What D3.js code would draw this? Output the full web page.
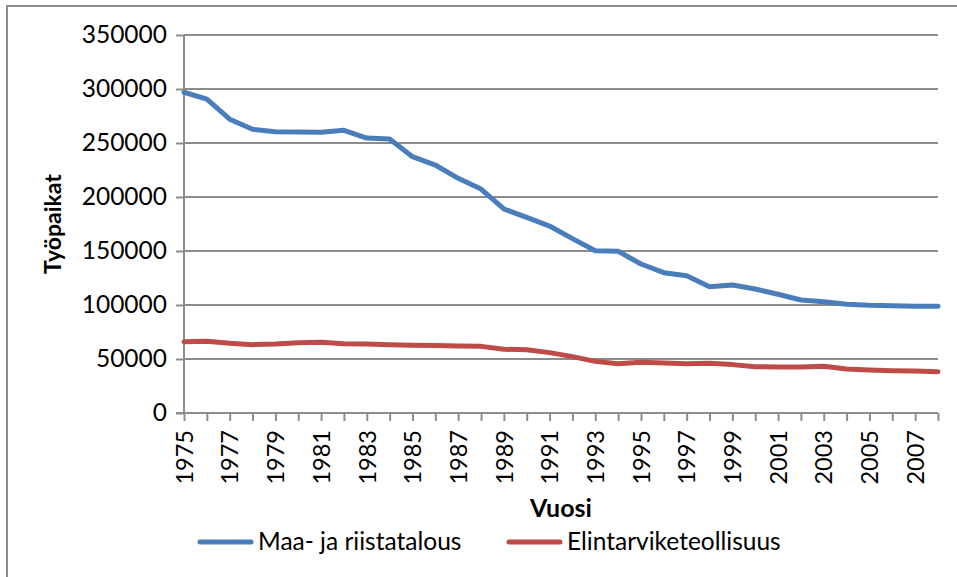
<!DOCTYPE html>
<html><head><meta charset="utf-8">
<script src="https://cdn.jsdelivr.net/npm/d3@7"></script>
<style>
html,body{margin:0;padding:0;background:#fff;}
svg{display:block;font-family:Lato, "Open Sans", sans-serif;}
</style></head>
<body>
<svg id="chart" width="957" height="577"></svg>
<script>
const years = d3.range(1975, 2009);
const tickLabels = [1975,1977,1979,1981,1983,1985,1987,1989,1991,1993,1995,1997,1999,2001,2003,2005,2007];
const yTicks = [0,50000,100000,150000,200000,250000,300000,350000];
const maaRiista = [297000,290700,272000,262700,260500,260200,260000,261700,254600,253700,237300,229600,217300,207400,188900,181200,173100,161500,150300,149800,138000,129900,127100,117000,118500,114800,109900,104600,103100,100600,99700,99400,98800,98800];
const elintarvike = [66000,66400,64500,63300,63900,65100,65400,64200,63900,63300,62700,62400,62000,61700,59000,58600,55900,52200,47800,45700,46900,46300,45700,46000,44800,42900,42600,42600,43200,40700,39800,39200,38900,38300];
const seriesNames = ["Maa- ja riistatalous","Elintarviketeollisuus"];
const seriesColors = ["#4A7EBB","#BE4B48"];

const svg = d3.select("#chart");
// outer frame
svg.append("rect").attr("x",7).attr("y",6).attr("width",960).attr("height",580)
  .attr("fill","#fff").attr("stroke","#8c8c8c").attr("stroke-width",2);

const x = d3.scalePoint().domain(years).range([184, 938]);
const y = d3.scaleLinear().domain([0,350000]).range([413, 35]);

// gridlines
svg.append("g").selectAll("line").data(yTicks.filter(d=>d>0)).join("line")
  .attr("x1",184).attr("x2",938).attr("y1",d=>y(d)).attr("y2",d=>y(d))
  .attr("stroke","#8c8c8c").attr("stroke-width",2);

// y axis
const yAxis = d3.axisLeft(y).tickValues(yTicks).tickSize(8).tickPadding(9).tickFormat(d3.format("d"));
const gy = svg.append("g").attr("transform","translate(184,0)").call(yAxis);
gy.select(".domain").attr("stroke","#8c8c8c").attr("stroke-width",2).attr("d","M0,35V413");
gy.selectAll(".tick line").attr("stroke","#8c8c8c").attr("stroke-width",2);
gy.selectAll(".tick text").attr("font-size",24.5).attr("fill","#000").attr("font-family","Lato");

// x axis
const xAxis = d3.axisBottom(x).tickSize(8).tickPadding(0)
  .tickFormat(d => tickLabels.includes(d) ? d : "");
const gx = svg.append("g").attr("transform","translate(0,413)").call(xAxis);
gx.select(".domain").attr("stroke","#8c8c8c").attr("stroke-width",2).attr("d","M176,0H938");
gx.selectAll(".tick line").attr("stroke","#8c8c8c").attr("stroke-width",2);
gx.selectAll(".tick text").attr("font-size",23.5).attr("fill","#000").attr("font-family","Lato")
  .attr("transform","rotate(-90)").attr("text-anchor","end").attr("x",-17).attr("y",0).attr("dy","0.35em");

// lines
const line = d3.line().x((d,i)=>x(years[i])).y(d=>y(d));
[maaRiista, elintarvike].forEach((s,k)=>{
  svg.append("path").datum(s).attr("d",line).attr("fill","none")
    .attr("stroke",seriesColors[k]).attr("stroke-width",5)
    .attr("stroke-linejoin","round").attr("stroke-linecap","round");
});

// axis titles
svg.append("text").attr("transform","translate(61,224) rotate(-90)").attr("text-anchor","middle")
  .attr("font-size",23).attr("font-weight","bold").attr("fill","#000").text("Työpaikat");
svg.append("text").attr("x",561).attr("y",517).attr("text-anchor","middle")
  .attr("font-size",25).attr("font-weight","bold").attr("fill","#000").text("Vuosi");

// legend
const legendX = [198, 507];
seriesNames.forEach((n,k)=>{
  const g = svg.append("g");
  g.append("line").attr("x1",legendX[k]+2).attr("x2",legendX[k]+53).attr("y1",542).attr("y2",542)
    .attr("stroke",seriesColors[k]).attr("stroke-width",5).attr("stroke-linecap","round");
  g.append("text").attr("x",legendX[k]+60).attr("y",550).attr("font-size",24.5).attr("fill","#000").text(n);
});
</script>
</body></html>
